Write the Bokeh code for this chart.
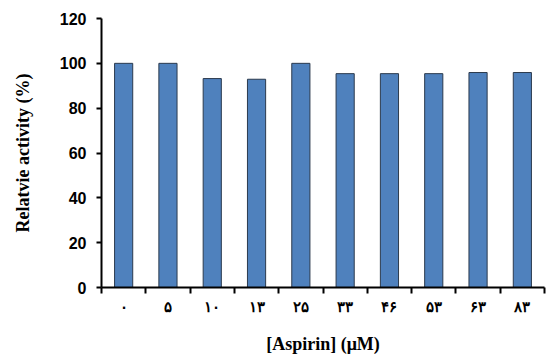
from bokeh.plotting import figure
from bokeh.models import ColumnDataSource, FixedTicker, Range1d
from bokeh.embed import file_html
from bokeh.resources import INLINE

categories = ["۰", "۵", "۱۰", "۱۳", "۲۵", "۳۳", "۴۶", "۵۳", "۶۳", "۸۳"]
activity = [100.0, 100.0, 93.2, 92.9, 100.0, 95.4, 95.4, 95.4, 95.9, 95.9]
y_ticks = [0, 20, 40, 60, 80, 100, 120]

n = len(categories)
centers = [i + 0.5 for i in range(n)]
bounds = [float(i) for i in range(n + 1)]

src = ColumnDataSource(dict(x=centers, top=activity, cat=categories))

p = figure(width=548, height=356, output_backend="svg", toolbar_location=None,
           x_range=Range1d(0, n), y_range=Range1d(0, 120),
           min_border_left=101, min_border_right=4, min_border_top=18, min_border_bottom=68)
p.outline_line_color = None
p.xgrid.visible = False
p.ygrid.visible = False

p.vbar(x="x", top="top", width=0.41, source=src, fill_color="#4F81BD",
       line_color="#2b3a4d", line_width=1)

xa = p.xaxis[0]
xa.ticker = FixedTicker(ticks=centers, minor_ticks=bounds)
xa.major_label_overrides = {c: lab for c, lab in zip(centers, categories)}
xa.major_tick_out = 0
xa.major_tick_in = 0
xa.minor_tick_out = 6
xa.minor_tick_in = 0
xa.minor_tick_line_color = "black"
xa.minor_tick_line_width = 2
xa.axis_line_width = 2
xa.axis_line_color = "black"
xa.major_label_text_font = "Liberation Serif"
xa.major_label_text_font_size = "15px"
xa.major_label_text_font_style = "bold"
xa.major_label_text_color = "black"
xa.major_label_standoff = 5
xa.axis_label = "[Aspirin] (μM)"
xa.axis_label_text_font = "Liberation Serif"
xa.axis_label_text_font_size = "18px"
xa.axis_label_text_font_style = "bold"
xa.axis_label_text_color = "black"
xa.axis_label_standoff = 16

ya = p.yaxis[0]
ya.ticker = FixedTicker(ticks=y_ticks)
ya.major_tick_out = 5
ya.major_tick_in = 0
ya.major_tick_line_width = 2
ya.minor_tick_out = 0
ya.minor_tick_in = 0
ya.axis_line_width = 2
ya.axis_line_color = "black"
ya.major_label_text_font = "Liberation Sans"
ya.major_label_text_font_size = "16px"
ya.major_label_text_font_style = "bold"
ya.major_label_text_color = "black"
ya.major_label_standoff = 10
ya.axis_label = "Relatvie activity (%)"
ya.axis_label_text_font = "Liberation Serif"
ya.axis_label_text_font_size = "18px"
ya.axis_label_text_font_style = "bold"
ya.axis_label_text_color = "black"
ya.axis_label_standoff = 24

open("out.html", "w").write(file_html(p, INLINE))
